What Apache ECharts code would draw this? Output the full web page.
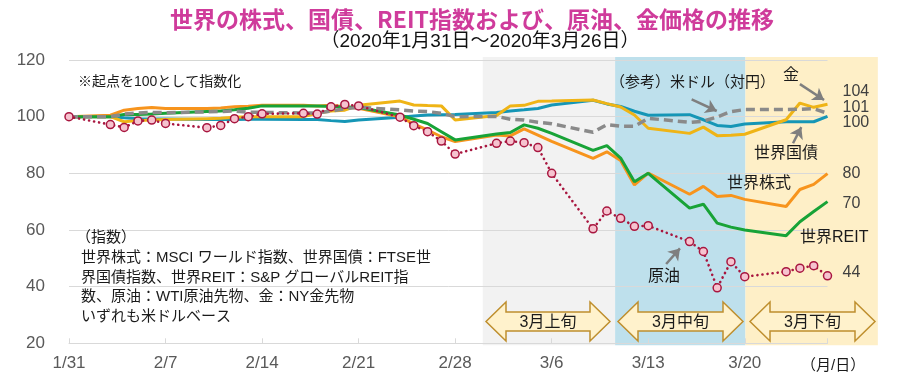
<!DOCTYPE html>
<html><head><meta charset="utf-8">
<script src="https://cdn.jsdelivr.net/npm/echarts@6/dist/echarts.min.js"></script>
<style>html,body{margin:0;padding:0;background:#fff}#c{width:900px;height:380px}</style>
</head><body><div id="c"></div>
<script>
// ---- data ----
const dates = [
 '2020-01-31','2020-02-03','2020-02-04','2020-02-05','2020-02-06','2020-02-07',
 '2020-02-10','2020-02-11','2020-02-12','2020-02-13','2020-02-14',
 '2020-02-17','2020-02-18','2020-02-19','2020-02-20','2020-02-21',
 '2020-02-24','2020-02-25','2020-02-26','2020-02-27','2020-02-28',
 '2020-03-02','2020-03-03','2020-03-04','2020-03-05','2020-03-06',
 '2020-03-09','2020-03-10','2020-03-11','2020-03-12','2020-03-13',
 '2020-03-16','2020-03-17','2020-03-18','2020-03-19','2020-03-20',
 '2020-03-23','2020-03-24','2020-03-25','2020-03-26'];
const equity = [100,100.5,102.3,102.9,103.2,102.9, 102.9,103.1,103.5,103.7,104.0, 104.0,103.8,104.0,103.5,103.0, 100.0,97.4,95.3,92.9,91.2, 93.5,93.2,95.7,93.5,91.3, 85.3,87.6,84.5,75.9,80.1, 72.6,75.4,71.8,72.2,70.8, 68.3,74.3,76.1,79.9];
const reit   = [100,100.0,100.8,100.8,100.9,101.2, 101.8,102.0,102.4,103.0,103.8, 103.8,103.8,103.6,103.4,103.2, 100.6,99.1,97.6,94.7,91.8, 93.9,94.4,97.1,95.9,94.1, 88.1,89.8,85.4,77.0,80.0, 67.7,69.1,62.4,61.0,60.0, 58.0,62.9,66.5,70.0];
const bonds  = [100,100.0,99.6,99.3,99.2,99.2, 99.0,99.0,99.0,99.1,99.1, 99.0,99.0,98.6,98.3,98.8, 99.8,100.2,100.6,100.7,100.8, 101.5,102.0,102.4,102.9,104.1, 105.8,104.5,103.6,101.9,100.5, 100.7,98.9,96.9,96.5,97.4, 98.2,98.2,98.2,100.1];
const gold   = [100,100.0,98.2,98.6,98.8,99.0, 99.3,99.4,99.8,100.0,100.0, 100.0,101.2,102.0,102.3,104.0, 105.5,104.1,103.9,103.8,98.8, 100.4,103.8,104.0,105.4,105.5, 105.9,104.6,103.4,100.6,95.9, 94.1,96.3,93.3,93.4,93.8, 98.9,104.8,103.3,104.4];
const usd    = [100,100.0,100.9,101.3,101.5,101.4, 101.7,101.8,102.0,101.6,101.5, 101.3,101.3,102.0,102.8,103.3, 102.4,102.0,101.8,101.2,100.0, 100.1,99.1,98.8,98.0,97.5, 94.5,97.2,96.6,96.6,99.4, 98.0,98.4,99.9,101.8,102.5, 102.5,102.6,102.8,101.2];
const oil    = [100,97.2,96.2,98.5,98.8,97.6, 96.1,96.9,99.3,100.0,101.0, 101.2,100.9,103.5,104.3,103.8, 99.8,96.8,94.7,91.4,86.8, 90.6,91.4,90.8,89.1,80.0, 60.4,66.7,64.1,61.3,61.5, 55.9,52.4,39.6,48.8,43.5, 45.3,46.5,47.4,43.8];
const yTicks = [20,40,60,80,100,120];
// shaded periods (days after 1/31): 3月上旬, 3月中旬, 3月下旬
const periodBounds = [30, 39.6, 49.05, 58.65];
const periodNames = ['3月上旬','3月中旬','3月下旬'];
// annotation arrows [from [day,value], to [day,value]]
const arrows = [
  [[53.0,111.5],[54.75,105.9]],
  [[45.15,106.1],[46.97,102.0]],
  [[52.5,90.6],[53.1,96.3]],
  [[43.3,48.0],[44.3,53.5]]
];

// ---- build ----
const base = Date.UTC(2020,0,31);
const dayOf = s => (Date.UTC(+s.slice(0,4), +s.slice(5,7)-1, +s.slice(8,10)) - base)/86400000;
const xs = dates.map(dayOf);
const pair = arr => arr.map((v,i)=>[xs[i], v]);
const LAT = "'Liberation Sans', 'Noto Sans CJK JP', sans-serif";
const JP = "'Noto Sans CJK JP', sans-serif";

function ls(name, arr, color, dy, extra) {
  return Object.assign({
    name, type:'line', data: pair(arr), symbol:'none', showSymbol:false, z:3,
    lineStyle:{color, width:3}, itemStyle:{color}, animation:false, silent:true,
    endLabel:{show:true, formatter: p => Math.round(p.value[1]), color:'#404040',
      fontSize:16, fontFamily:LAT, distance:15, offset:[0,dy]}
  }, extra||{});
}

const option = {
  backgroundColor:'#fff',
  animation:false,
  grid:{left:69, right:72.5, top:60, bottom:36.7},
  xAxis:{type:'value', min:0, max:55, interval:7,
    axisLine:{show:true, lineStyle:{color:'#d9d9d9', width:1}},
    axisTick:{show:true, inside:true, length:5, lineStyle:{color:'#d9d9d9'}},
    splitLine:{show:false},
    axisLabel:{color:'#595959', fontSize:17, fontFamily:LAT, margin:12,
      formatter: v => { if (v % 7 !== 0) return ''; const d = new Date(base + v*86400000); return (d.getUTCMonth()+1)+'/'+d.getUTCDate(); }}
  },
  yAxis:{type:'value', min:yTicks[0], max:yTicks[yTicks.length-1], interval:20,
    axisLine:{show:false}, axisTick:{show:false},
    splitLine:{lineStyle:{color:'#d9d9d9', width:1}},
    axisLabel:{color:'#595959', fontSize:17, fontFamily:LAT, margin:24}
  },
  series:[
    ls('世界国債', bonds, '#1596b6', 6),
    ls('金', gold, '#efb416', -13),
    ls('世界株式', equity, '#f7941d', 0),
    ls('世界REIT', reit, '#18a337', 2),
    ls('米ドル', usd, '#8a8a8a', -6, {lineStyle:{color:'#8a8a8a', width:3.5, type:[9,5]}}),
    ls('原油', oil, '#a8163f', -3, {symbol:'circle', showSymbol:true, symbolSize:8,
      itemStyle:{color:'#f6c3cf', borderColor:'#a8163f', borderWidth:1.5},
      lineStyle:{color:'#a8163f', width:2.6, type:[0.1,5], cap:'round'}}),
    {type:'line', data:[], z:4, silent:true,
      markLine:{silent:true, animation:false, symbol:['none','arrow'], symbolSize:11,
        lineStyle:{color:'#7f7f7f', width:2.5, type:'solid'}, label:{show:false},
        data: arrows.map(a=>[{coord:a[0]},{coord:a[1]}])}}
  ]
};
const chart = echarts.init(document.getElementById('c'), null, {renderer:'canvas'});
chart.setOption(option);

const px = (d,v) => chart.convertToPixel({gridIndex:0}, [d,v]);
const shadeColors = ['#f2f2f2','#bee0ec','#feefc7'];
const g = [];
for (let i=0;i<3;i++){
  const p0 = px(periodBounds[i], 121.1), p1 = px(periodBounds[i+1], 19.3);
  g.push({type:'rect', z:-1, silent:true, shape:{x:p0[0], y:p0[1], width:p1[0]-p0[0], height:p1[1]-p0[1]}, style:{fill:shadeColors[i]}});
}
function txt(text, x, y, font, fill, align, extra){
  return Object.assign({type:'text', z:10, silent:true, x, y, style:{text, font, fill:fill||'#1a1a1a',
    align:align||'left', verticalAlign:'middle', textAlign:align||'left', textVerticalAlign:'middle'}}, extra||{});
}
// double arrows
const dArrows = [[486,610],[618,743],[750,875]];
const yc = 321.5, H = 19.5, B = 9.5, hl = 20;
dArrows.forEach((a,i)=>{
  const x0=a[0], x1=a[1];
  g.push({type:'polygon', z:8, silent:true, shape:{points:[[x0,yc],[x0+hl,yc-H],[x0+hl,yc-B],[x1-hl,yc-B],[x1-hl,yc-H],[x1,yc],[x1-hl,yc+H],[x1-hl,yc+B],[x0+hl,yc+B],[x0+hl,yc+H]]},
    style:{fill:'#fff2cc', stroke:'#bf8f2e', lineWidth:1.5}});
  g.push(txt(periodNames[i], (x0+x1)/2, yc+1, "16px "+LAT, '#1a1a1a', 'center'));
});
g.push(txt('世界の株式、国債、REIT指数および、原油、金価格の推移', 472, 19, "bold 23px "+JP, '#cf3b9b', 'center'));
g.push(txt('（2020年1月31日～2020年3月26日）', 480, 42, "19px "+LAT, '#111', 'center'));
g.push(txt('※起点を100として指数化', 78, 82, "14px "+LAT));
const notes = ['（指数）','世界株式：MSCI ワールド指数、世界国債：FTSE世','界国債指数、世界REIT：S&P グローバルREIT指','数、原油：WTI原油先物、金：NY金先物','いずれも米ドルベース'];
const noteY = [238,258,277.5,297,316.5];
notes.forEach((t,i)=>g.push(txt(t, i===0?76:81, noteY[i], "15px "+LAT)));
g.push(txt('（参考）米ドル（対円）', 610, 83, "15px "+LAT));
g.push(txt('金', 783, 76, "16px "+LAT));
g.push(txt('世界国債', 754, 154, "16px "+LAT));
g.push(txt('世界株式', 727, 184, "16px "+LAT));
g.push(txt('世界REIT', 800, 238, "16px "+LAT));
g.push(txt('原油', 648, 277, "16px "+LAT));
g.push(txt('（月/日）', 801, 366, "15px "+LAT));
chart.setOption({graphic:{elements:g}});
</script></body></html>
